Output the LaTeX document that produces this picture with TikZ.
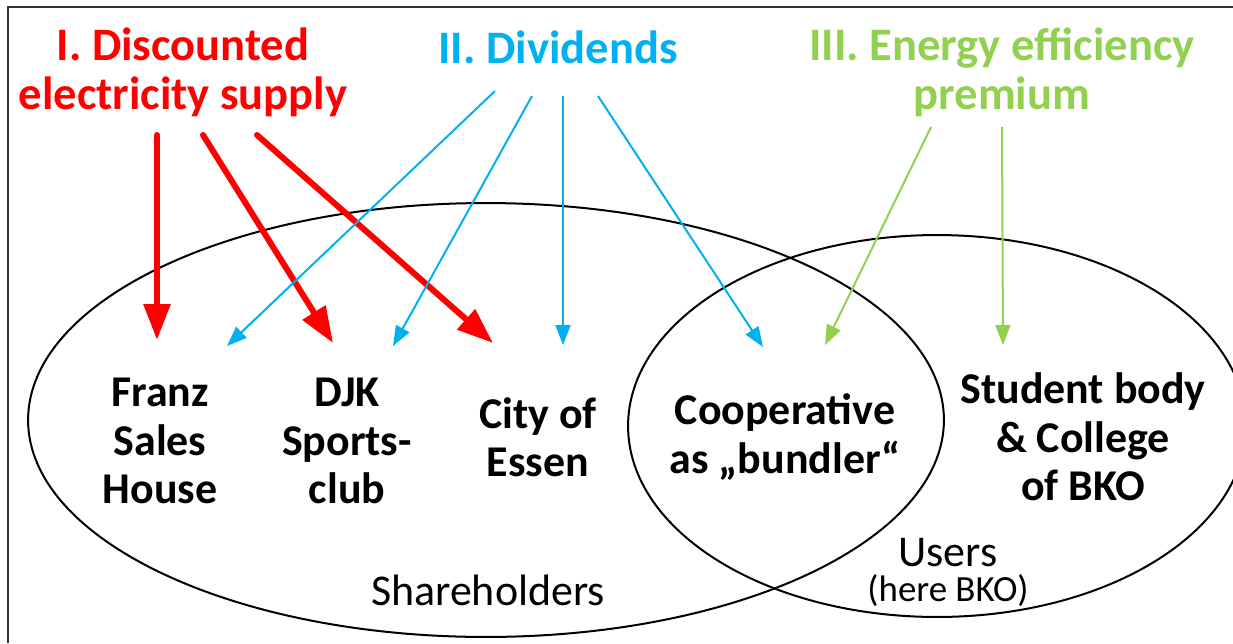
\documentclass[tikz,border=0pt]{standalone}
\usepackage{fontspec}
\setmainfont{Carlito}
\usetikzlibrary{calc}
\usetikzlibrary{arrows.meta}
\definecolor{discred}{RGB}{255,0,0}
\definecolor{divblue}{RGB}{0,176,240}
\definecolor{effgreen}{RGB}{146,208,80}

\begin{document}
\begin{tikzpicture}[x=0.02cm, y=-0.02cm,
    heading/.style={font=\fontsize{26.5}{27.8}\selectfont\bfseries, align=center},
    member/.style={font=\fontsize{25}{27.5}\selectfont\bfseries, align=center},
    group/.style={font=\fontsize{25}{27.5}\selectfont, inner sep=1pt},
    redarrow/.style={draw=discred, line width=0.12cm, line cap=round, -{Triangle[length=0.72cm, width=0.52cm]}},
    bluearrow/.style={draw=divblue, line width=0.04cm, -{Triangle[length=0.4cm, width=0.3cm]}},
    greenarrow/.style={draw=effgreen, line width=0.04cm, -{Triangle[length=0.4cm, width=0.3cm]}}]
            \useasboundingbox (0,0) rectangle (1233,643);
            \draw[line width=1.5pt, black!80] (8,643) -- (8,7) -- (1233,7);
            % shareholders and users
            \draw[line width=0.04cm] (486,420) ellipse [x radius=9.16cm, y radius=4.34cm];
            \draw[line width=0.04cm] (937,426) ellipse [x radius=6.18cm, y radius=3.82cm];
            \node[group] (share) at (488,590) {Shareholders};
            \node[group] (users) at (948,553) {Users};
            \node[group, font=\fontsize{21}{24}\selectfont] (here) at (948,591) {(here BKO)};
            % headings
            \node[heading, text=discred] (disc) at (183,72) {I. Discounted\\electricity supply};
            \node[heading, text=divblue] (div) at (558,47) {II. Dividends};
            \node[heading, text=effgreen] (eff) at (1002,72) {III. Energy efficiency\\premium};
            % members
            \node[member] (franz) at (160,441) {Franz\\Sales\\House};
            \node[member] (djk) at (347,441) {DJK\\Sports-\\club};
            \node[member] (essen) at (538,437) {City of\\Essen};
            \node[member] (coop) at (785,437) {Cooperative\\as „bundler“};
            \node[member] (student) at (1083,437) {Student body\\\& College\\of BKO};
            % I.
            \draw[redarrow] ($(disc)+(-26,63)$) -- ($(franz)+(-3,-101)$);
            \draw[redarrow] ($(disc)+(20,63)$) -- ($(djk)+(-14,-98)$);
            \draw[redarrow] ($(disc)+(74,63)$) -- ($(essen)+(-45,-94)$);
            % II.
            \draw[bluearrow] ($(div)+(-63,44)$) -- ($(franz)+(67,-95)$);
            \draw[bluearrow] ($(div)+(-26,49)$) -- ($(djk)+(46,-95)$);
            \draw[bluearrow] ($(div)+(5,49)$) -- ($(essen)+(25,-92)$);
            \draw[bluearrow] ($(div)+(40,49)$) -- ($(coop)+(-22,-90)$);
            % III.
            \draw[greenarrow] ($(eff)+(-71,55)$) -- ($(coop)+(40,-92)$);
            \draw[greenarrow] ($(eff)+(0,55)$) -- ($(student)+(-80,-92)$);
\end{tikzpicture}
\end{document}
